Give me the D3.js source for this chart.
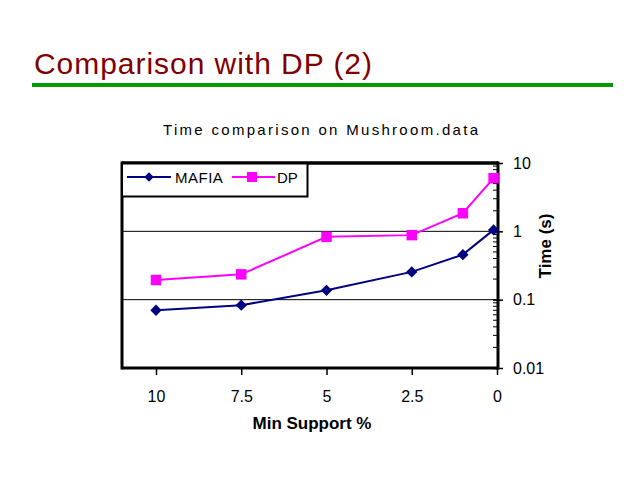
<!DOCTYPE html>
<html><head><meta charset="utf-8">
<script src="https://cdn.jsdelivr.net/npm/d3@7"></script>
<style>body{margin:0;background:#fff}svg{display:block}text{font-family:"Liberation Sans",Arial,sans-serif}</style>
</head><body><svg id="c" width="640" height="480"></svg>
<script>
const xValues = [10, 7.5, 5, 2.5, 1, 0.1];
const mafia = [0.07, 0.083, 0.137, 0.255, 0.456, 1.05];
const dp = [0.194, 0.235, 0.83, 0.88, 1.84, 6.0];
const xTicks = [10, 7.5, 5, 2.5, 0];
const yTicks = [10, 1, 0.1, 0.01];
const yTickLabels = ["10", "1", "0.1", "0.01"];
const seriesNames = ["MAFIA", "DP"];

const svg = d3.select("#c");
// Slide title
svg.append("text").attr("x", 34).attr("y", 74).attr("font-size", 30).attr("fill", "#800000")
  .attr("textLength", 338).attr("lengthAdjust", "spacing").text("Comparison with DP (2)");
svg.append("rect").attr("x", 32).attr("y", 83).attr("width", 581).attr("height", 4).attr("fill", "#009900");

// chart title
svg.append("text").attr("x", 163).attr("y", 134.5).attr("font-size", 15)
  .attr("textLength", 315).attr("lengthAdjust", "spacing").text("Time comparison on Mushroom.data");

const L = 122, R = 498, T = 163, B = 368;
const x = d3.scaleLinear().domain([10, 0]).range([156, 497]);
const y = d3.scaleLog().domain([0.01, 10]).range([B, T]);

// gridlines
svg.append("g").selectAll("line").data([1, 0.1]).join("line")
  .attr("x1", L).attr("x2", R).attr("y1", d => y(d)).attr("y2", d => y(d))
  .attr("stroke", "#000").attr("stroke-width", 1);

// frame
svg.append("line").attr("x1", L).attr("x2", R).attr("y1", T).attr("y2", T).attr("stroke", "#000").attr("stroke-width", 3);
svg.append("line").attr("x1", L).attr("x2", L).attr("y1", T - 1.5).attr("y2", B + 1.5).attr("stroke", "#000").attr("stroke-width", 3);
svg.append("line").attr("x1", L).attr("x2", R).attr("y1", B).attr("y2", B).attr("stroke", "#000").attr("stroke-width", 3);

// right y axis
const yAxis = d3.axisRight(y).tickValues(yTicks).tickFormat((d, i) => yTickLabels[i]).tickSize(5).tickPadding(10);
const ga = svg.append("g").attr("transform", `translate(${R},0)`).call(yAxis);
ga.attr("font-size", 16).attr("font-family", "Liberation Sans, Arial, sans-serif");
ga.select(".domain").attr("stroke-width", 3).attr("d", `M0,${T - 1.5}V${B + 1.5}`);
ga.selectAll(".tick line").attr("x1", -5).attr("stroke-width", 1.5);
ga.selectAll(".tick text").attr("fill", "#000");
// minor ticks
const minor = [];
[0.01, 0.1, 1].forEach(dec => { for (let k = 2; k <= 9; k++) minor.push(dec * k); });
svg.append("g").selectAll("line").data(minor).join("line")
  .attr("x1", R - 5).attr("x2", R).attr("y1", d => y(d)).attr("y2", d => y(d))
  .attr("stroke", "#000").attr("stroke-width", 1);

// bottom x axis ticks and labels
const xAxis = d3.axisBottom(x).tickValues(xTicks).tickFormat(d3.format("")).tickSize(6).tickPadding(16);
const gx = svg.append("g").attr("transform", `translate(0,${B + 1})`).call(xAxis);
gx.attr("font-size", 16).attr("font-family", "Liberation Sans, Arial, sans-serif");
gx.select(".domain").remove();
gx.selectAll(".tick line").attr("stroke-width", 1.5);
gx.selectAll(".tick text").attr("fill", "#000");

// axis titles
svg.append("text").attr("x", 312).attr("y", 429).attr("text-anchor", "middle").attr("font-size", 17).attr("font-weight", "bold").text("Min Support %");
svg.append("text").attr("transform", "translate(551,246) rotate(-90)").attr("text-anchor", "middle").attr("font-size", 17).attr("font-weight", "bold").text("Time (s)");

// lines
const line = d3.line().x(d => x(d[0])).y(d => y(d[1]));
const colors = ["#000080", "#FF00FF"];
const seriesData = [mafia, dp];
seriesData.forEach((vals, si) => {
  const pts = xValues.map((xv, i) => [xv, vals[i]]);
  svg.append("path").datum(pts).attr("d", line).attr("fill", "none").attr("stroke", colors[si]).attr("stroke-width", 2);
  svg.append("g").selectAll("path").data(pts).join("path")
    .attr("d", si === 0 ? d3.symbol().type(d3.symbolSquare).size(64)() : d3.symbol().type(d3.symbolSquare).size(110)())
    .attr("transform", d => `translate(${x(d[0])},${y(d[1])})` + (si === 0 ? " rotate(45)" : ""))
    .attr("fill", colors[si]);
});

// legend
svg.append("rect").attr("x", L).attr("y", T).attr("width", 185.5).attr("height", 33.5).attr("fill", "#fff").attr("stroke", "#000").attr("stroke-width", 2);
svg.append("line").attr("x1", L).attr("x2", R).attr("y1", T).attr("y2", T).attr("stroke", "#000").attr("stroke-width", 3);
const legendX = [[127, 171, 149, 175], [232, 275, 252, 277]];
seriesNames.forEach((nm, si) => {
  const [a, b, c, t] = legendX[si];
  svg.append("line").attr("x1", a).attr("x2", b).attr("y1", 177).attr("y2", 177).attr("stroke", colors[si]).attr("stroke-width", 2);
  svg.append("path").attr("d", d3.symbol().type(d3.symbolSquare).size(si === 0 ? 45 : 100)())
    .attr("transform", `translate(${c},177)` + (si === 0 ? " rotate(45)" : "")).attr("fill", colors[si]);
  svg.append("text").attr("x", t).attr("y", 183).attr("font-size", 15).attr("letter-spacing", si === 0 ? 0.5 : 0).text(nm);
});
</script></body></html>
